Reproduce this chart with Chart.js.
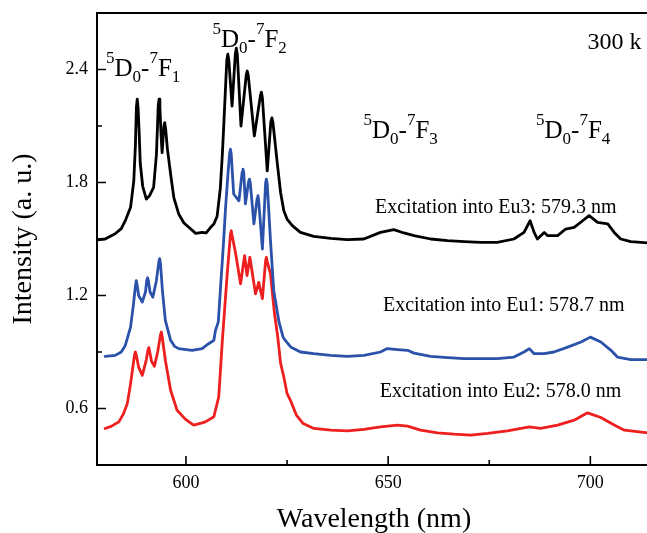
<!DOCTYPE html>
<html>
<head>
<meta charset="utf-8">
<script src="https://cdn.jsdelivr.net/npm/chart.js@4.4.1/dist/chart.umd.min.js"></script>
<style>
  html, body { margin: 0; padding: 0; background: #fff; overflow: hidden; width: 647px; height: 533px; }
  canvas { display: block; }
</style>
</head>
<body>
<canvas id="c" width="655" height="540"></canvas>
<script>
// ---------- DATA ----------
const xTickValues = [600, 650, 700];
const xMinorTickValues = [625, 675];
const yTickValues = [0.6, 1.2, 1.8, 2.4];
const yMinorTickValues = [0.9, 1.5, 2.1];

// Excitation into Eu3 (black)
const wavelengthEu3 = [578.0,580.0,582.5,584.0,585.0,586.3,587.1,587.5,587.75,587.95,588.15,588.4,588.7,589.3,590.2,591.0,592.0,592.7,593.15,593.35,593.55,593.85,594.1,594.55,594.75,595.0,595.4,596.2,597.0,598.2,599.5,600.7,602.4,604.0,605.0,606.1,606.9,607.7,608.5,609.0,609.4,610.1,610.35,610.6,611.4,612.2,612.45,612.7,613.6,614.9,615.15,615.4,616.9,618.4,618.65,618.9,620.1,621.0,621.25,621.5,622.6,623.4,624.2,625.0,626.3,628.3,631.6,635.8,639.9,644.0,648.1,651.4,653.9,656.4,660.5,664.7,668.8,672.9,677.0,681.1,683.6,685.1,686.1,686.9,688.6,689.4,691.9,693.9,696.0,698.1,699.7,701.8,704.3,705.9,707.5,710.0,714.2,715.5];
const intensityEu3 = [1.495,1.500,1.528,1.555,1.597,1.668,1.809,2.000,2.200,2.242,2.200,2.080,1.901,1.780,1.712,1.730,1.774,1.950,2.210,2.242,2.200,2.050,1.959,2.100,2.118,2.080,1.980,1.845,1.720,1.633,1.585,1.562,1.530,1.535,1.532,1.562,1.580,1.620,1.770,1.950,2.127,2.450,2.481,2.450,2.206,2.480,2.513,2.480,2.100,2.370,2.392,2.370,2.047,2.260,2.280,2.250,1.862,2.125,2.143,2.120,1.899,1.747,1.650,1.606,1.571,1.535,1.514,1.503,1.497,1.500,1.535,1.550,1.532,1.518,1.500,1.491,1.486,1.482,1.482,1.500,1.535,1.597,1.535,1.500,1.535,1.518,1.518,1.553,1.562,1.597,1.624,1.588,1.580,1.535,1.500,1.486,1.479,1.478];

// Excitation into Eu1 (blue)
const wavelengthEu1 = [580.0,582.5,584.0,585.0,586.3,587.0,587.5,587.7,587.9,588.3,589.2,590.0,590.3,590.5,590.7,591.1,591.8,592.7,593.3,593.5,593.7,594.2,594.9,596.2,597.2,598.2,601.5,604.0,605.6,606.9,607.3,608.0,608.5,609.2,609.8,610.4,610.8,611.0,611.2,611.8,613.1,613.9,614.1,614.3,614.7,615.5,615.7,615.9,616.8,617.6,617.8,618.0,618.9,619.7,619.9,620.1,620.9,621.7,623.0,624.0,624.6,626.0,628.3,631.6,635.8,639.9,644.0,648.1,649.8,652.3,654.8,656.4,660.5,664.7,668.8,672.9,677.0,681.1,683.6,684.9,686.1,688.6,691.0,694.4,697.7,700.0,702.6,705.1,706.7,710.0,714.2,715.5];
const intensityEu1 = [0.877,0.882,0.900,0.935,1.032,1.150,1.250,1.279,1.260,1.200,1.165,1.220,1.280,1.294,1.280,1.220,1.191,1.280,1.380,1.396,1.370,1.220,1.068,0.962,0.930,0.918,0.909,0.918,0.944,0.962,1.015,1.060,1.227,1.450,1.668,1.850,1.955,1.977,1.950,1.739,1.703,1.855,1.871,1.850,1.686,1.805,1.818,1.800,1.580,1.715,1.730,1.700,1.447,1.800,1.818,1.790,1.491,1.227,1.060,0.980,0.960,0.925,0.900,0.891,0.882,0.877,0.882,0.900,0.918,0.913,0.909,0.894,0.877,0.870,0.865,0.865,0.865,0.873,0.900,0.918,0.891,0.891,0.900,0.926,0.953,0.979,0.953,0.909,0.873,0.860,0.860,0.860];

// Excitation into Eu2 (red)
const wavelengthEu2 = [580.0,581.5,583.4,584.5,585.5,586.3,587.0,587.3,587.5,587.7,588.3,589.2,590.2,590.6,590.8,591.0,591.5,592.2,593.0,593.7,593.9,594.1,594.9,596.2,597.8,599.9,601.9,604.0,604.8,606.9,608.1,609.0,610.2,611.0,611.2,611.4,612.3,613.5,614.5,615.1,615.8,617.2,618.0,618.9,619.7,619.9,620.1,620.9,621.9,622.7,623.4,624.2,625.0,625.9,627.3,629.0,631.6,635.8,639.9,644.0,648.1,652.3,654.8,658.0,662.2,666.3,670.4,674.6,679.5,684.9,687.7,691.9,696.0,699.3,702.6,705.9,708.4,714.2,715.5];
const intensityEu2 = [0.494,0.505,0.529,0.570,0.626,0.732,0.840,0.885,0.900,0.885,0.820,0.776,0.860,0.910,0.923,0.905,0.850,0.824,0.900,0.990,1.006,0.985,0.856,0.697,0.591,0.542,0.512,0.524,0.529,0.556,0.661,0.962,1.315,1.525,1.544,1.520,1.421,1.262,1.412,1.306,1.403,1.209,1.270,1.183,1.385,1.403,1.380,1.315,1.103,0.980,0.840,0.767,0.680,0.640,0.565,0.520,0.494,0.485,0.481,0.489,0.503,0.512,0.506,0.485,0.471,0.464,0.459,0.468,0.481,0.503,0.494,0.512,0.538,0.577,0.552,0.512,0.485,0.471,0.470];

const xTitle = 'Wavelength (nm)';
const yTitle = 'Intensity (a. u.)';
const temperatureLabel = '300 k';
const excitationLabels = ['Excitation into Eu3: 579.3 nm', 'Excitation into Eu1: 578.7 nm', 'Excitation into Eu2: 578.0 nm'];
const transitionFinal = ['1', '2', '3', '4'];

// ---------- DRAWING ----------
const FONT = "'Liberation Serif', 'Times New Roman', serif";
const zip = (xs, ys) => xs.map((x, i) => ({ x: x, y: ys[i] }));

function termParts(j) {
  return [['5', 'sup'], ['D', 'n'], ['0', 'sub'], ['-', 'n'], ['7', 'sup'], ['F', 'n'], [j, 'sub']];
}
function drawTerm(ctx, parts, x, y) {
  ctx.textBaseline = 'alphabetic';
  ctx.textAlign = 'left';
  for (const [t, k] of parts) {
    let dy = 0;
    if (k === 'n') { ctx.font = '25px ' + FONT; }
    else { ctx.font = '17px ' + FONT; dy = k === 'sup' ? -13 : 6; }
    ctx.fillText(t, x, y + dy);
    x += ctx.measureText(t).width;
  }
}

const decorPlugin = {
  id: 'decor',
  afterDatasetsDraw(chart) {
    const { ctx, chartArea: a, scales: { x, y } } = chart;
    ctx.save();
    ctx.strokeStyle = '#000';
    ctx.lineWidth = 2;
    ctx.strokeRect(a.left, a.top, a.right - a.left, a.bottom - a.top);
    ctx.lineWidth = 1.6;
    ctx.beginPath();
    xTickValues.forEach(v => { const p = x.getPixelForValue(v); ctx.moveTo(p, a.bottom); ctx.lineTo(p, a.bottom - 9); });
    xMinorTickValues.forEach(v => { const p = x.getPixelForValue(v); ctx.moveTo(p, a.bottom); ctx.lineTo(p, a.bottom - 5); });
    yTickValues.forEach(v => { const p = y.getPixelForValue(v); ctx.moveTo(a.left, p); ctx.lineTo(a.left + 9, p); });
    yMinorTickValues.forEach(v => { const p = y.getPixelForValue(v); ctx.moveTo(a.left, p); ctx.lineTo(a.left + 5, p); });
    ctx.stroke();

    ctx.fillStyle = '#000';
    drawTerm(ctx, termParts(transitionFinal[0]), 106, 75.5);
    drawTerm(ctx, termParts(transitionFinal[1]), 212.5, 46.5);
    drawTerm(ctx, termParts(transitionFinal[2]), 363.5, 138.3);
    drawTerm(ctx, termParts(transitionFinal[3]), 536, 138.3);

    ctx.font = '24px ' + FONT;
    ctx.textAlign = 'left';
    ctx.textBaseline = 'alphabetic';
    ctx.fillText(temperatureLabel, 587.5, 49);

    ctx.font = '20px ' + FONT;
    ctx.fillText(excitationLabels[0], 375, 213.3);
    ctx.fillText(excitationLabels[1], 383, 310.7);
    ctx.fillText(excitationLabels[2], 379.7, 396.7);
    ctx.restore();
  }
};

const lineStyle = { pointRadius: 0, borderWidth: 2.8, tension: 0, fill: false, borderJoinStyle: 'round', borderCapStyle: 'round' };

new Chart(document.getElementById('c').getContext('2d'), {
  type: 'line',
  data: {
    datasets: [
      Object.assign({ label: excitationLabels[0], data: zip(wavelengthEu3, intensityEu3), borderColor: '#000000' }, lineStyle),
      Object.assign({ label: excitationLabels[1], data: zip(wavelengthEu1, intensityEu1), borderColor: '#2b52aa' }, lineStyle),
      Object.assign({ label: excitationLabels[2], data: zip(wavelengthEu2, intensityEu2), borderColor: '#ee1f1f' }, lineStyle)
    ]
  },
  options: {
    responsive: false,
    animation: false,
    layout: { padding: { top: 13, right: 4, left: 0, bottom: 0 } },
    plugins: { legend: { display: false }, tooltip: { enabled: false } },
    scales: {
      x: {
        type: 'linear', min: 578, max: 715, position: 'bottom',
        grid: { display: false, drawTicks: false },
        border: { display: false },
        afterBuildTicks: s => { s.ticks = xTickValues.map(v => ({ value: v })); },
        afterFit: s => { s.height = 75; s.paddingLeft = 0; s.paddingRight = 0; },
        ticks: { font: { family: FONT, size: 18 }, color: '#000', padding: 7, maxRotation: 0, callback: v => String(v) },
        title: { display: true, text: xTitle, font: { family: FONT, size: 28 }, color: '#000', padding: { top: 0, bottom: 4 } }
      },
      y: {
        type: 'linear', min: 0.3, max: 2.7, position: 'left',
        grid: { display: false, drawTicks: false },
        border: { display: false },
        afterBuildTicks: s => { s.ticks = yTickValues.map(v => ({ value: v })); },
        afterFit: s => { s.width = 97; s.paddingTop = 0; s.paddingBottom = 0; },
        ticks: { font: { family: FONT, size: 18 }, color: '#000', padding: 9, callback: v => Number(v).toFixed(1) },
        title: { display: true, text: yTitle, font: { family: FONT, size: 28 }, color: '#000', padding: { top: 7, bottom: 0 } }
      }
    }
  },
  plugins: [decorPlugin]
});
</script>
</body>
</html>
